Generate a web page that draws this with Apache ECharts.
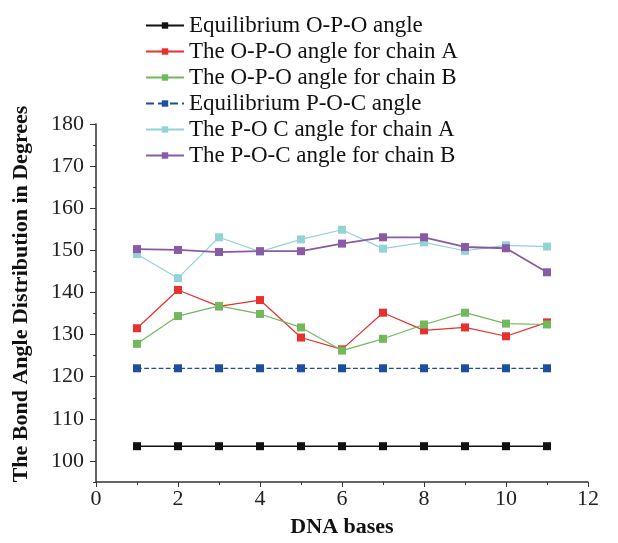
<!DOCTYPE html>
<html>
<head>
<meta charset="utf-8">
<script src="https://cdn.jsdelivr.net/npm/echarts@6/dist/echarts.min.js"></script>
<style>
  html, body { margin: 0; padding: 0; background: #fff; }
  #chart { width: 618px; height: 543px; }
</style>
</head>
<body>
<div id="chart"></div>
<script>
var bases = [1, 2, 3, 4, 5, 6, 7, 8, 9, 10, 11];
var eqOPO = [103.5, 103.5, 103.5, 103.5, 103.5, 103.5, 103.5, 103.5, 103.5, 103.5, 103.5];
var opoChainA = [131.5, 140.6, 136.7, 138.2, 129.3, 126.5, 135.2, 131.0, 131.7, 129.6, 132.9];
var opoChainB = [127.8, 134.4, 136.8, 134.9, 131.7, 126.2, 129.0, 132.4, 135.2, 132.6, 132.4];
var eqPOC = [122, 122, 122, 122, 122, 122, 122, 122, 122, 122, 122];
var pocChainA = [149.1, 143.4, 153.1, 149.7, 152.6, 154.9, 150.4, 151.9, 149.9, 151.2, 150.9];
var pocChainB = [150.3, 150.1, 149.6, 149.8, 149.8, 151.6, 153.1, 153.1, 150.8, 150.5, 144.8];
var yTicks = [100, 110, 120, 130, 140, 150, 160, 170, 180];
var yMinorTicks = [95, 105, 115, 125, 135, 145, 155, 165, 175];

var serif = "'Liberation Serif', 'Times New Roman', serif";

function pairs(vals) {
	var out = [];
	for (var i = 0; i < bases.length; i++) {
		out.push([bases[i], vals[i]]);
	}
	return out;
}

function mkSeries(name, vals, color, width, type) {
	return {
		name: name,
		type: 'line',
		data: pairs(vals),
		symbol: 'rect',
		symbolSize: 8,
		itemStyle: { color: color },
		lineStyle: { color: color, width: width, type: type || 'solid' },
		emphasis: { disabled: true },
		animation: false
	};
}

var chart = echarts.init(document.getElementById('chart'));
chart.setOption({
	backgroundColor: '#fff',
	legend: {
		orient: 'vertical',
		left: 140,
		top: 9,
		itemWidth: 38,
		itemHeight: 8,
		itemGap: 3,
		textStyle: { fontFamily: serif, fontSize: 23, color: '#111' }
	},
	grid: { left: 96, right: 30, top: 124, bottom: 61, containLabel: false },
	xAxis: {
		type: 'value',
		min: 0,
		max: 12,
		interval: 2,
		name: 'DNA bases',
		nameLocation: 'middle',
		nameGap: 34,
		nameTextStyle: { fontFamily: serif, fontSize: 22, fontWeight: 'bold', color: '#111' },
		axisLine: { lineStyle: { color: '#333', width: 1.5 } },
		axisTick: { length: 5, lineStyle: { color: '#333' } },
		minorTick: { show: true, splitNumber: 2, length: 3, lineStyle: { color: '#333' } },
		axisLabel: { fontFamily: serif, fontSize: 22, color: '#222', margin: 6 },
		splitLine: { show: false }
	},
	yAxis: [{
		type: 'value',
		min: 95,
		max: 180,
		interval: 5,
		name: 'The Bond Angle Distribution in Degrees',
		nameLocation: 'middle',
		nameGap: 64,
		nameTextStyle: { fontFamily: serif, fontSize: 22, fontWeight: 'bold', color: '#111', padding: [0, 0, 0, 18] },
		axisLine: { show: true, lineStyle: { color: '#333', width: 1.5 } },
		axisTick: { show: true, length: 6, customValues: yTicks, lineStyle: { color: '#333' } },
		axisLabel: { fontFamily: serif, fontSize: 22, color: '#222', margin: 12, customValues: yTicks },
		splitLine: { show: false }
	}, {
		type: 'value',
		min: 95,
		max: 180,
		interval: 5,
		position: 'left',
		axisLine: { show: false },
		axisTick: { show: true, length: 3, customValues: yMinorTicks, lineStyle: { color: '#333' } },
		axisLabel: { show: false },
		splitLine: { show: false }
	}],
	series: [
		mkSeries('Equilibrium O-P-O angle', eqOPO, '#111111', 1.5),
		mkSeries('The O-P-O angle for chain A', opoChainA, '#e8302f', 1.2),
		mkSeries('The O-P-O angle for chain B', opoChainB, '#72b85c', 1.2),
		mkSeries('Equilibrium P-O-C angle', eqPOC, '#1c4f9e', 1.2, 'dashed'),
		mkSeries('The P-O C angle for chain A', pocChainA, '#93d3d6', 1.2),
		mkSeries('The P-O-C angle for chain B', pocChainB, '#8a5aa6', 1.8)
	]
});
</script>
</body>
</html>
